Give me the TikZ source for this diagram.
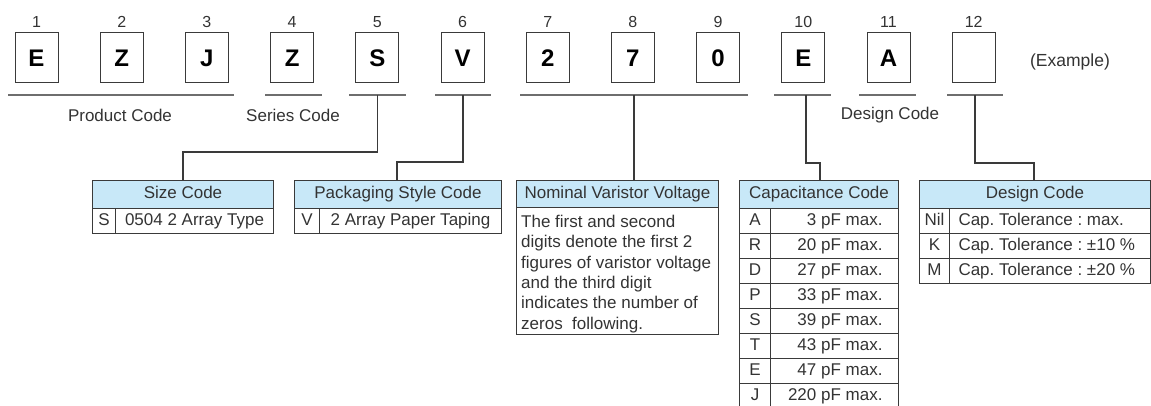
\documentclass[tikz,border=0pt]{standalone}
\usepackage{fontspec}
\setmainfont{Liberation Sans}
\definecolor{hdr}{HTML}{C8E8F8}
\definecolor{ln}{HTML}{3A3A3A}
\definecolor{ul}{HTML}{6E6E6E}
\definecolor{txt}{HTML}{333333}
\newcommand{\tabfont}{\fontsize{17}{20.4}\selectfont\frenchspacing}
\begin{document}
\begin{tikzpicture}[x=1pt,y=-1pt,
  dbox/.style={draw=ln, line width=1pt, minimum width=43pt, minimum height=50pt, inner sep=0pt,
    font=\fontsize{24}{24}\selectfont\bfseries, text=black},
  num/.style={font=\fontsize{16}{16}\selectfont, text=txt, inner sep=0pt},
  lbl/.style={font=\fontsize{17}{17}\selectfont, text=txt, inner sep=0pt},
  uline/.style={draw=ul, line width=2pt},
  conn/.style={draw=ln, line width=1.1pt},
  cell/.style={draw=ln, line width=1pt, inner sep=0pt, font=\tabfont, text=txt, anchor=north west,
    minimum height=25pt, text height=12pt, text depth=3.5pt},
  hcell/.style={cell, fill=hdr, minimum height=28pt},
  para/.style={inner sep=0pt, font=\tabfont, text=txt, align=left}
]
\useasboundingbox (0,0) rectangle (1151,406);
\clip (0,0) rectangle (1151,406);

% digit boxes
\foreach \i/\c in {1/E,2/Z,3/J,4/Z,5/S,6/V,7/2,8/7,9/0,10/E,11/A,12/{}} {
  \node[dbox] (b\i) at ({36.5+85.2*(\i-1)},58) {\c};
  \node[num] (n\i) at ({36.5+85.2*(\i-1)},22) {\i};
}
\node[lbl, font=\fontsize{17.5}{17.5}\selectfont] (ex) at (1070,62) {(Example)};

% underlines
\coordinate (u1a) at (8,95);   \coordinate (u1b) at (234,95);
\coordinate (u2a) at (265,95); \coordinate (u2b) at (322,95);
\coordinate (u3a) at (349,95); \coordinate (u3b) at (406,95);
\coordinate (u4a) at (435,95); \coordinate (u4b) at (491,95);
\coordinate (u5a) at (520,95); \coordinate (u5b) at (748,95);
\coordinate (u6a) at (774,95); \coordinate (u6b) at (831,95);
\coordinate (u7a) at (859,95); \coordinate (u7b) at (916,95);
\coordinate (u8a) at (947,95); \coordinate (u8b) at (1003,95);
\foreach \k in {1,...,8} { \draw[uline] (u\k a) -- (u\k b); }

\node[lbl] (pc) at (120,115) {Product Code};
\node[lbl] (sc) at (293,115) {Series Code};
\node[lbl] (dc) at (890,115) {Design Code};

% ---- Size Code table
\node[hcell, minimum width=181pt] (sizeh) at (92,180) {Size Code};
\node[cell, minimum width=23pt] (sizek) at (92,208) {S};
\node[cell, minimum width=158pt] (sizev) at (115,208) {0504 2 Array Type};

% ---- Packaging Style Code table
\node[hcell, minimum width=207pt] (packh) at (294,180) {Packaging Style Code};
\node[cell, minimum width=25pt] (packk) at (294,208) {V};
\node[cell, minimum width=182pt] (packv) at (319,208) {2 Array Paper Taping};

% ---- Nominal Varistor Voltage
\node[hcell, minimum width=202pt, minimum height=27pt] (nomh) at (516,180) {Nominal Varistor Voltage};
\node[cell, minimum width=202pt, minimum height=127pt] (nomb) at (516,207) {};
\node[para, anchor=west] (nomt) at ([yshift=-3pt]nomb.west -| 521,0)
  {The first and second\\digits denote the first 2\\figures of varistor voltage\\and the third digit\\indicates the number of\\zeros\ \ following.};

% ---- Capacitance Code table
\node[hcell, minimum width=159pt] (caph) at (739,180) {Capacitance Code};
\foreach \r/\k/\v in {0/A/3,1/R/20,2/D/27,3/P/33,4/S/39,5/T/43,6/E/47,7/J/220} {
  \node[cell, minimum width=31pt] (capk\r) at (739,{208+25*\r}) {\k};
  \node[cell, minimum width=128pt] (capv\r) at (770,{208+25*\r}) {\makebox[96pt][r]{\v\ pF max.}};
}

% ---- Design Code table
\node[hcell, minimum width=231pt] (desh) at (919,180) {Design Code};
\foreach \r/\k/\v in {0/Nil/max.,1/K/±10 \%,2/M/±20 \%} {
  \node[cell, minimum width=30pt] (desk\r) at (919,{208+25*\r}) {\k};
  \node[cell, minimum width=201pt] (desv\r) at (949,{208+25*\r}) {\makebox[183pt][l]{Cap. Tolerance : \v}};
}

% ---- connectors
\draw[conn] (377.5,95) -- (377.5,152) -- (183,152) -- (sizeh.north -| 183,0);
\draw[conn] (463,95) -- (463,162) -- (397,162) -- (packh.north -| 397,0);
\draw[conn] (634,95) -- (nomh.north -| 634,0);
\draw[conn] (806,95) -- (806,163) -- (820,163) -- (caph.north -| 820,0);
\draw[conn] (975,95) -- (975,163) -- (1034,163) -- (desh.north -| 1034,0);
\end{tikzpicture}
\end{document}
